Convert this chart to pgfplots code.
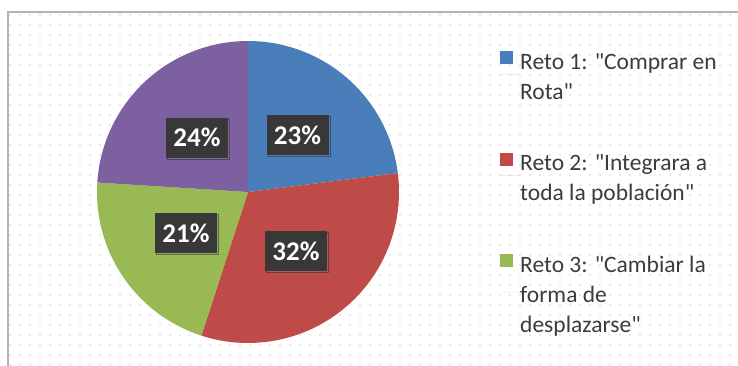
\documentclass[border=0pt]{standalone}
\usepackage{pgfplots}
\pgfplotsset{compat=1.18}
\usepackage{pgfplotstable}
\usepackage{fontspec}
\setmainfont{Carlito}[Ligatures=TeXOff]
\usetikzlibrary{patterns.meta,shadows}
\definecolor{pblue}{HTML}{4A7EBB}
\definecolor{pred}{HTML}{BE4B48}
\definecolor{pgreen}{HTML}{98B954}
\definecolor{ppurple}{HTML}{7D60A0}
\definecolor{labbg}{HTML}{383838}
\definecolor{txt}{HTML}{3C3C3C}
\definecolor{framec}{HTML}{B4B4B4}
\newcommand\q{\symbol{34}}
\newcommand\ls{\rule[-9pt]{0pt}{30pt}}

\pgfplotstableread{
slice value
1 23
2 32
3 21
4 24
}\pietable
\pgfplotstableread{
x y lab
297.5 230 23
296 114 32
186 132 21
197 227.5 24
}\labtable

\pgfplotstablegetelem{0}{value}\of\pietable \let\vA\pgfplotsretval
\pgfplotstablegetelem{1}{value}\of\pietable \let\vB\pgfplotsretval
\pgfplotstablegetelem{2}{value}\of\pietable \let\vC\pgfplotsretval
\pgfplotstablegetelem{3}{value}\of\pietable \let\vD\pgfplotsretval
\pgfmathsetmacro\aO{90}
\pgfmathsetmacro\aA{\aO-3.6*\vA}
\pgfmathsetmacro\aB{\aA-3.6*\vB}
\pgfmathsetmacro\aC{\aB-3.6*\vC}
\pgfmathsetmacro\aD{\aC-3.6*\vD}
\def\cx{248}\def\cy{173}\def\rr{151}

\begin{document}
\begin{tikzpicture}
\begin{axis}[
  width=738pt, height=365pt, scale only axis,
  xmin=0, xmax=738, ymin=0, ymax=365,
  hide axis, clip=false,
  legend style={at={(axis cs:500,317)}, anchor=north west, draw=none, fill=none,
    font=\fontsize{23.5}{30}\selectfont\color{txt}, row sep=49pt,
    cells={align=left}, inner sep=0pt, column sep=0pt,
    nodes={inner sep=0pt, inner xsep=0pt}},
  legend cell align=left,
]
% background frame
\fill[white] (axis cs:0,0) rectangle (axis cs:738,365);
\fill[pattern={Dots[distance=10pt, radius=0.6pt]}, pattern color=gray!75]
  (axis cs:8,0) rectangle (axis cs:738,353);
\draw[framec, line width=1.6pt] (axis cs:8,-2) -- (axis cs:8,353) -- (axis cs:740,353);

\addplot[fill=pblue, draw=none, domain=\aA:\aO, samples=60,
  legend image code/.code={\fill[pblue, overlay] (0pt,10pt) rectangle (13pt,23pt); \path (0,0) -- (20pt,0);}]
  ({\cx+\rr*cos(x)},{\cy+\rr*sin(x)}) -- (axis cs:\cx,\cy) -- cycle;
\addlegendentry{\ls Reto 1: \q Comprar en\\\ls Rota\q}
\addplot[fill=pred, draw=none, domain=\aB:\aA, samples=60,
  legend image code/.code={\fill[pred, overlay] (0pt,10pt) rectangle (13pt,23pt); \path (0,0) -- (20pt,0);}]
  ({\cx+\rr*cos(x)},{\cy+\rr*sin(x)}) -- (axis cs:\cx,\cy) -- cycle;
\addlegendentry{\ls Reto 2: \q Integrara a\\\ls toda la población\q}
\addplot[fill=pgreen, draw=none, domain=\aC:\aB, samples=60,
  legend image code/.code={\fill[pgreen, overlay] (0pt,25pt) rectangle (13pt,38pt); \path (0,0) -- (20pt,0);}]
  ({\cx+\rr*cos(x)},{\cy+\rr*sin(x)}) -- (axis cs:\cx,\cy) -- cycle;
\addlegendentry{\ls Reto 3: \q Cambiar la\\\ls forma de\\\ls desplazarse\q}
\addplot[fill=ppurple, draw=none, domain=\aD:\aC, samples=60, forget plot]
  ({\cx+\rr*cos(x)},{\cy+\rr*sin(x)}) -- (axis cs:\cx,\cy) -- cycle;

\addplot[only marks, mark=none, forget plot,
  nodes near coords={\pgfplotspointmeta\%},
  point meta=explicit symbolic,
  nodes near coords style={anchor=center, fill=labbg, text=white,
    font=\fontsize{27}{28}\selectfont\bfseries,
    minimum width=62pt, minimum height=40pt, inner sep=0pt,
    drop shadow={shadow xshift=1.5pt, shadow yshift=-1.5pt, opacity=0.35}}]
  table[x=x, y=y, meta=lab] {\labtable};
\end{axis}
\pgfresetboundingbox
\path (0,0) rectangle (738pt,365pt);
\end{tikzpicture}
\end{document}
